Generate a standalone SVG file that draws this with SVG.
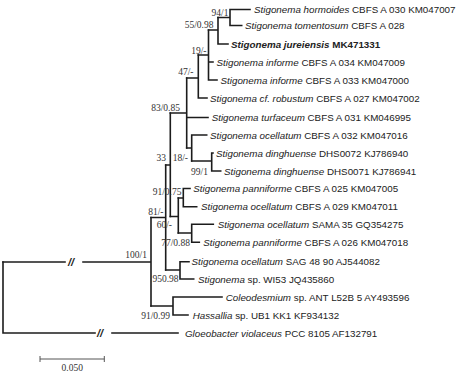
<svg xmlns="http://www.w3.org/2000/svg" width="474" height="374" viewBox="0 0 474 374">
<style>
.br{fill:none;stroke:#1c1c1c;stroke-width:1.6;stroke-linecap:square}
.lf{font-family:"Liberation Sans",Arial,sans-serif;font-size:9.8px;fill:#222}
.it{font-style:italic}
.bd{font-weight:bold}
.bs{font-family:"Liberation Serif","Times New Roman",serif;font-size:9.5px;fill:#333}
.brk{font-family:"Liberation Sans",Arial,sans-serif;font-size:11px;font-weight:bold;font-style:italic;fill:#1c1c1c}
.sb{fill:none;stroke:#555;stroke-width:1}
</style>
<rect width="474" height="374" fill="#ffffff"/>
<g id="connectors">
<path class="br" d="M230 9.5V25.5M230 9.5H250M230 25.5H241.7M218 17.5H230"/>
<path class="br" d="M218 17.5V44M218 44H228M208.5 30H218"/>
<path class="br" d="M208.5 30V80M208.5 62H213M208.5 80H217M198.3 55H208.5"/>
<path class="br" d="M198.3 55V98M198.3 98H207M186.7 78H198.3"/>
<path class="br" d="M186.7 78V148M186.7 117.5H208M170.3 113H186.7"/>
<path class="br" d="M191.7 135V161M191.7 135H206.7M186.7 148H191.7"/>
<path class="br" d="M211.7 153V171M211.7 153H213M211.7 171H220.7M191.7 161H211.7"/>
<path class="br" d="M170.3 113V216.5M165.7 165H170.3"/>
<path class="br" d="M178.3 198V233M170.3 216.5H178.3"/>
<path class="br" d="M183.3 188.5V206.7M183.3 188.5H190M183.3 206.7H196.7M178.3 198H183.3"/>
<path class="br" d="M191.7 224.3V242.3M191.7 224.3H213.3M191.7 242.3H199.3M178.3 233H191.7"/>
<path class="br" d="M165.7 165V270M151 217.5H165.7"/>
<path class="br" d="M180 261.7V279M180 261.7H189M180 279H193.7M165.7 270H180"/>
<path class="br" d="M173 297V315M173 297H222M173 315H188M151 306H173"/>
<path class="br" d="M151 217.5V306M83 262H151M3 262H65"/>
<path class="br" d="M3 262V333M3 333H95M112 333H178"/>
<text class="brk" x="68" y="266">//</text>
<text class="brk" x="97" y="337">//</text>
</g>
<g id="leaves">
<g id="n1"><text class="lf" x="254" y="13"><tspan class="it">Stigonema hormoides</tspan> CBFS A 030 KM047007</text></g>
<g id="n2"><text class="lf" x="245" y="29"><tspan class="it">Stigonema tomentosum</tspan> CBFS A 028</text></g>
<g id="n3"><text class="lf bd" x="231" y="47.5"><tspan class="it">Stigonema jureiensis</tspan> MK471331</text></g>
<g id="n4"><text class="lf" x="216.5" y="65.5"><tspan class="it">Stigonema informe</tspan> CBFS A 034 KM047009</text></g>
<g id="n5"><text class="lf" x="220.5" y="83.5"><tspan class="it">Stigonema informe</tspan> CBFS A 033 KM047000</text></g>
<g id="n6"><text class="lf" x="210" y="101.5"><tspan class="it">Stigonema cf. robustum</tspan> CBFS A 027 KM047002</text></g>
<g id="n7"><text class="lf" x="211.7" y="121"><tspan class="it">Stigonema turfaceum</tspan> CBFS A 031 KM046995</text></g>
<g id="n8"><text class="lf" x="210" y="138.5"><tspan class="it">Stigonema ocellatum</tspan> CBFS A 032 KM047016</text></g>
<g id="n9"><text class="lf" x="216" y="156.5"><tspan class="it">Stigonema dinghuense</tspan> DHS0072 KJ786940</text></g>
<g id="n10"><text class="lf" x="224" y="174.5"><tspan class="it">Stigonema dinghuense</tspan> DHS0071 KJ786941</text></g>
<g id="n11"><text class="lf" x="193.3" y="192"><tspan class="it">Stigonema panniforme</tspan> CBFS A 025 KM047005</text></g>
<g id="n12"><text class="lf" x="201" y="210"><tspan class="it">Stigonema ocellatum</tspan> CBFS A 029 KM047011</text></g>
<g id="n13"><text class="lf" x="217.7" y="228"><tspan class="it">Stigonema ocellatum</tspan> SAMA 35 GQ354275</text></g>
<g id="n14"><text class="lf" x="203.3" y="246"><tspan class="it">Stigonema panniforme</tspan> CBFS A 026 KM047018</text></g>
<g id="n15"><text class="lf" x="191.5" y="265"><tspan class="it">Stigonema ocellatum</tspan> SAG 48 90 AJ544082</text></g>
<g id="n16"><text class="lf" x="198" y="282.5"><tspan class="it">Stigonema</tspan> sp. WI53 JQ435860</text></g>
<g id="n17"><text class="lf" x="225.7" y="300.5"><tspan class="it">Coleodesmium</tspan> sp. ANT L52B 5 AY493596</text></g>
<g id="n18"><text class="lf" x="192.7" y="318.5"><tspan class="it">Hassallia</tspan> sp. UB1 KK1 KF934132</text></g>
<g id="n19"><text class="lf" x="185" y="336.5"><tspan class="it">Gloeobacter violaceus</tspan> PCC 8105 AF132791</text></g>
</g>
<g id="support" class="bs" text-anchor="end">
<text x="228.5" y="15.5">94/1</text>
<text x="213.5" y="28">55/0.98</text>
<text x="206.5" y="54">19/-</text>
<text x="193.5" y="75">47/-</text>
<text x="180" y="110.5">83/0.85</text>
<text x="166" y="161">33</text>
<text x="188" y="160.5">18/-</text>
<text x="208" y="174.5">99/1</text>
<text x="181.5" y="195">91/0.75</text>
<text x="163.5" y="214.5">81/-</text>
<text x="172" y="227.5">60/-</text>
<text x="190" y="246">77/0.88</text>
<text x="147" y="258">100/1</text>
<text x="178.5" y="281.5">950.98</text>
<text x="170" y="318.5">91/0.99</text>
</g>
<g id="scale">
<path class="sb" d="M40 359H104.3M40 356V362M104.3 356V362"/>
<text class="bs" x="72.2" y="371" text-anchor="middle">0.050</text>
</g>
</svg>
